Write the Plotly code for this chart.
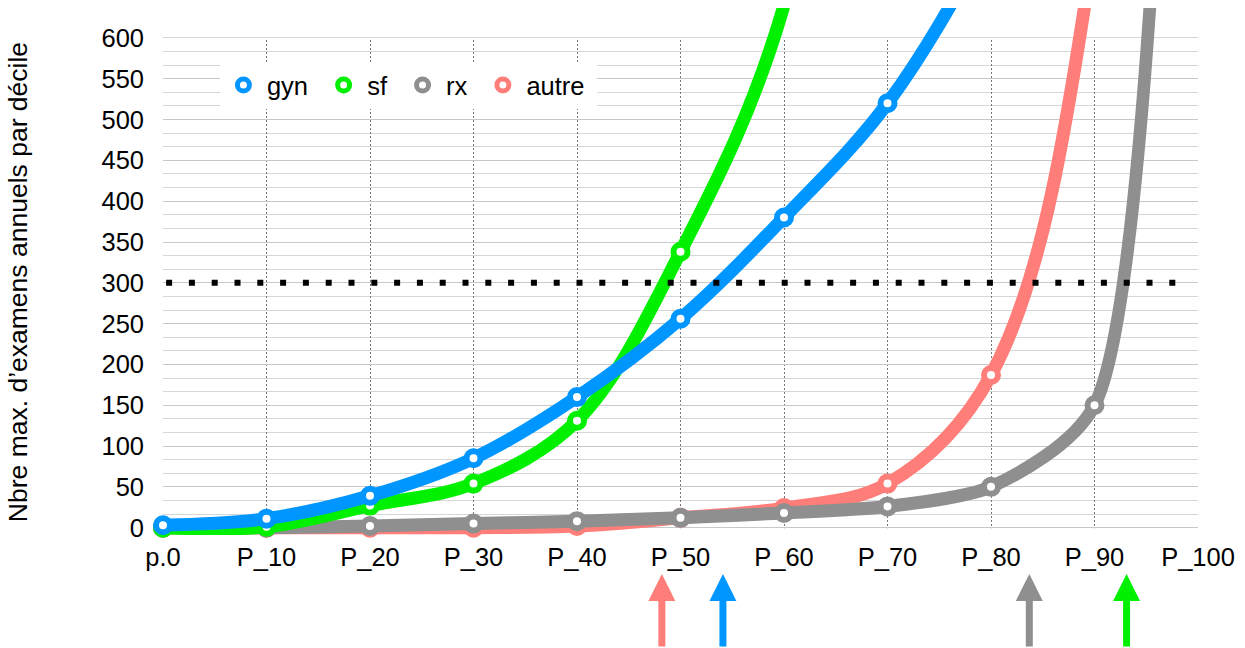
import plotly.graph_objects as go

# deciles
deciles = [0, 10, 20, 30, 40, 50, 60, 70, 80, 90, 100]
decile_labels = ["p.0", "P_10", "P_20", "P_30", "P_40", "P_50", "P_60", "P_70", "P_80", "P_90", "P_100"]

# max annual exams per decile
gyn = [3, 11, 39, 85, 160, 256, 380, 520, 730, 1000, 1500]
sf = [0, 1, 27, 54, 131, 338, 640, 1400, 2000, 2600, 3200]
rx = [0, 0, 2, 5, 8, 12, 18, 26, 50, 150, 2500]
autre = [0, 0, 0, 0, 2, 12, 24, 54, 187, 720, 3000]

y_max = 600
threshold = 300
threshold_span = [0.3, 98]

# arrows under the axis (series colour, percentile)
arrow_pos = [48.2, 54.1, 83.7, 93.1]
arrow_series = ["autre", "gyn", "rx", "sf"]

colors = {"gyn": "#0096FF", "sf": "#00F000", "rx": "#8F8F8F", "autre": "#FF7E79"}
smooth = {"gyn": 1, "sf": 1, "rx": 0.7, "autre": 1}
series = {"gyn": gyn, "sf": sf, "rx": rx, "autre": autre}
FONT = "Liberation Sans, Arial, Helvetica, sans-serif"

fig = go.Figure()

# drawn bottom to top: autre, rx, sf, gyn
for name in ["autre", "rx", "sf", "gyn"]:
    vals = series[name]
    fig.add_trace(go.Scatter(
        x=deciles, y=vals, name=name, mode="lines+markers", showlegend=False,
        line=dict(color=colors[name], width=13, shape="spline", smoothing=smooth[name]),
        marker=dict(size=14, color="white", line=dict(color=colors[name], width=6),
                    opacity=[1 if v <= y_max else 0 for v in vals]),
        cliponaxis=False,
    ))

# legend entries (ring only)
for name in ["gyn", "sf", "rx", "autre"]:
    fig.add_trace(go.Scatter(
        x=[None], y=[None], name=name + " ", mode="markers",
        marker=dict(size=12, color="white", line=dict(color=colors[name], width=5)),
    ))

# hide grid outside 0..600
fig.add_shape(type="rect", xref="x", yref="y", x0=-2, x1=102, y0=y_max + 0.8, y1=700,
              fillcolor="white", line_width=0, layer="between")
fig.add_shape(type="rect", xref="x", yref="y", x0=-2, x1=102, y0=-20, y1=-0.8,
              fillcolor="white", line_width=0, layer="between")

# dotted 300 line
fig.add_shape(type="line", xref="x", yref="y", x0=threshold_span[0], x1=threshold_span[1],
              y0=threshold, y1=threshold,
              line=dict(color="black", width=6, dash="6px,16.8px"), layer="above")

for pos, name in zip(arrow_pos, arrow_series):
    fig.add_annotation(x=pos, y=-0.074, xref="x", yref="paper", text="",
                       showarrow=True, ax=0, ay=80, arrowhead=2, arrowsize=0.77,
                       arrowwidth=7, arrowcolor=colors[name], standoff=0)

fig.add_annotation(text="Nbre max. d’examens annuels par décile", textangle=-90,
                   xref="paper", yref="paper", x=-0.14, y=0.48, showarrow=False,
                   xanchor="center", yanchor="middle", font=dict(size=26.5, color="black"))

fig.update_layout(
    width=1245, height=648,
    margin=dict(l=163, r=47, t=8, b=113),
    paper_bgcolor="white", plot_bgcolor="white",
    font=dict(family=FONT, size=25.5, color="black"),
    showlegend=True,
    legend=dict(orientation="h", x=0.055, y=0.8975, xanchor="left", yanchor="top",
                itemwidth=37, bgcolor="white", font=dict(size=25.5)),
)
fig.update_xaxes(range=[0, 100], tickvals=deciles, ticktext=decile_labels,
                 showgrid=True, gridcolor="#777777", gridwidth=1, griddash="2px,2px",
                 zeroline=False, showline=False, ticks="", ticklabelstandoff=4)
fig.update_yaxes(range=[-9, 636.7], tickvals=list(range(0, y_max + 1, 50)),
                 showgrid=True, gridcolor="#c8c8c8", gridwidth=1,
                 minor=dict(dtick=50 / 3, showgrid=True, gridcolor="#d6d6d6", gridwidth=1),
                 zeroline=False, showline=False, ticks="", ticklabelstandoff=18)

fig.write_html("out.html", config={"displayModeBar": False},
               post_script="document.body.style.margin='0px';")
